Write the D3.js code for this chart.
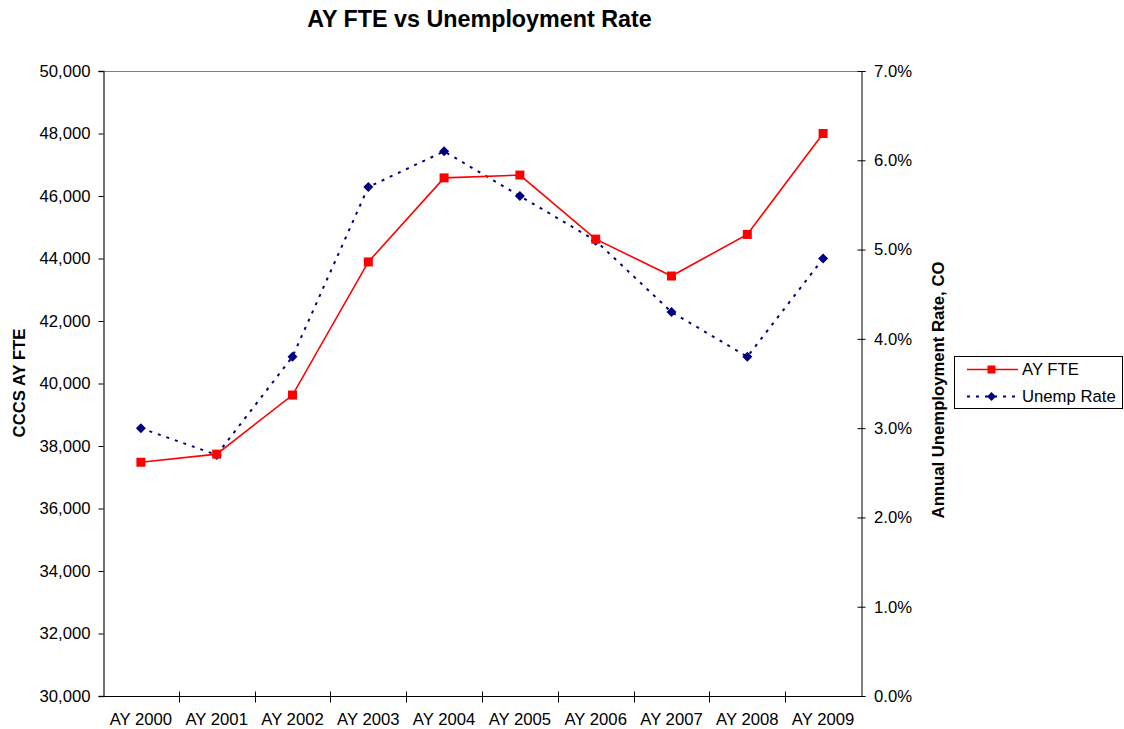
<!DOCTYPE html>
<html>
<head>
<meta charset="utf-8">
<script src="https://cdn.jsdelivr.net/npm/d3@7"></script>
<style>
  body { margin: 0; background: #fff; }
  svg { display: block; font-family: "Liberation Sans", Arial, sans-serif; }
</style>
</head>
<body>
<svg id="chart" width="1124" height="729"></svg>
<script>
// Academic years on the category axis
const years = ["AY 2000", "AY 2001", "AY 2002", "AY 2003", "AY 2004",
               "AY 2005", "AY 2006", "AY 2007", "AY 2008", "AY 2009"];
// CCCS annual FTE enrollment
const fte = [37480, 37740, 39630, 43890, 46580, 46670, 44620, 43440, 44770, 48000];
// Colorado annual unemployment rate (percent)
const unempRate = [3.0, 2.7, 3.8, 5.7, 6.1, 5.6, 5.1, 4.3, 3.8, 4.9];
// Axis ticks
const fteTicks = [30000, 32000, 34000, 36000, 38000, 40000, 42000, 44000, 46000, 48000, 50000];
const rateTicks = [0, 1, 2, 3, 4, 5, 6, 7];

const FONT = "Liberation Sans, Arial, sans-serif";
const FS = 16.7;

const svg = d3.select("#chart");
const plot = { left: 103, right: 861, top: 71, bottom: 696 };

const x = d3.scaleBand().domain(years).range([plot.left, plot.right]);
const yL = d3.scaleLinear().domain([30000, 50000]).range([plot.bottom, plot.top]);
const yR = d3.scaleLinear().domain([0, 7]).range([plot.bottom, plot.top]);
const cx = d => x(d) + x.bandwidth() / 2;

// Square-diamond marker path, r = half diagonal
const diamondPath = r => `M0,${-r}L${r},0L0,${r}L${-r},0Z`;

// Plot area top border
svg.append("line")
  .attr("x1", plot.left).attr("x2", plot.right)
  .attr("y1", plot.top + 0.5).attr("y2", plot.top + 0.5)
  .attr("stroke", "#808080").attr("stroke-width", 1);

// Left axis
const leftAxis = svg.append("g")
  .attr("transform", `translate(${plot.left + 0.5},0)`)
  .call(d3.axisLeft(yL).tickValues(fteTicks).tickSize(5).tickPadding(8)
    .tickFormat(d3.format(",")));
leftAxis.select(".domain").attr("stroke", "#404040").attr("stroke-width", 1.5);
leftAxis.selectAll(".tick line").attr("stroke", "#000");
leftAxis.selectAll("text").attr("font-size", FS).attr("fill", "#000")
  .attr("font-family", FONT);

// Right axis
const rightAxis = svg.append("g")
  .attr("transform", `translate(${plot.right + 0.5},0)`)
  .call(d3.axisRight(yR).tickValues(rateTicks).tickSize(4).tickPadding(8.5)
    .tickFormat(d => d3.format(".1f")(d) + "%"));
rightAxis.select(".domain").attr("stroke", "#000");
rightAxis.selectAll(".tick line").attr("x1", -4).attr("stroke", "#000");
rightAxis.selectAll("text").attr("font-size", FS).attr("fill", "#000")
  .attr("font-family", FONT);

// Bottom axis with ticks between categories
const bottom = svg.append("g").attr("transform", `translate(0,${plot.bottom + 0.5})`);
bottom.append("line").attr("x1", plot.left).attr("x2", plot.right + 1)
  .attr("stroke", "#000");
const bounds = years.slice(1).map(d => x(d));
bottom.selectAll("line.tk").data(bounds).enter().append("line")
  .attr("class", "tk")
  .attr("x1", d => Math.round(d) + 0.5).attr("x2", d => Math.round(d) + 0.5)
  .attr("y1", -5).attr("y2", 6).attr("stroke", "#000");
bottom.selectAll("text").data(years).enter().append("text")
  .attr("x", d => cx(d)).attr("y", 28.5)
  .attr("text-anchor", "middle").attr("font-size", FS).attr("fill", "#000")
  .text(d => d);

// Unemployment rate series: dashed navy line with diamonds
const lineR = d3.line().x((d, i) => cx(years[i])).y(d => yR(d));
svg.append("path").datum(unempRate)
  .attr("d", lineR).attr("fill", "none")
  .attr("stroke", "#000080").attr("stroke-width", 2)
  .attr("stroke-dasharray", "3,6");
svg.selectAll("path.dia").data(unempRate).enter().append("path")
  .attr("class", "dia")
  .attr("transform", (d, i) => `translate(${cx(years[i])},${yR(d)})`)
  .attr("d", diamondPath(5)).attr("fill", "#000080");

// FTE series: solid red line with squares
const lineL = d3.line().x((d, i) => cx(years[i])).y(d => yL(d));
svg.append("path").datum(fte)
  .attr("d", lineL).attr("fill", "none")
  .attr("stroke", "#ff0000").attr("stroke-width", 1.6);
svg.selectAll("rect.sq").data(fte).enter().append("rect")
  .attr("class", "sq")
  .attr("x", (d, i) => cx(years[i]) - 4.5).attr("y", d => yL(d) - 4.5)
  .attr("width", 9).attr("height", 9).attr("fill", "#ff0000");

// Title and axis titles
svg.append("text").attr("x", 479.5).attr("y", 27)
  .attr("text-anchor", "middle").attr("font-size", 23.3).attr("font-weight", "bold")
  .text("AY FTE vs Unemployment Rate");
svg.append("text")
  .attr("transform", `translate(25,383) rotate(-90)`)
  .attr("text-anchor", "middle").attr("font-size", FS).attr("font-weight", "bold")
  .text("CCCS AY FTE");
svg.append("text")
  .attr("transform", `translate(944,390) rotate(-90)`)
  .attr("text-anchor", "middle").attr("font-size", FS).attr("font-weight", "bold")
  .text("Annual Unemployment Rate, CO");

// Legend
const lg = svg.append("g");
lg.append("rect").attr("x", 954.5).attr("y", 356.5).attr("width", 168).attr("height", 52)
  .attr("fill", "#fff").attr("stroke", "#000");
lg.append("line").attr("x1", 967).attr("x2", 1018).attr("y1", 369.5).attr("y2", 369.5)
  .attr("stroke", "#ff0000").attr("stroke-width", 1.6);
lg.append("rect").attr("x", 987.5).attr("y", 365.5).attr("width", 8).attr("height", 8)
  .attr("fill", "#ff0000");
lg.append("text").attr("x", 1022).attr("y", 374.5).attr("font-size", FS).text("AY FTE");
lg.append("line").attr("x1", 967).attr("x2", 1018).attr("y1", 396.5).attr("y2", 396.5)
  .attr("stroke", "#000080").attr("stroke-width", 2).attr("stroke-dasharray", "3,6");
lg.append("path").attr("transform", "translate(991.5,396.5)").attr("d", diamondPath(4.5))
  .attr("fill", "#000080");
lg.append("text").attr("x", 1022).attr("y", 401.5).attr("font-size", FS).text("Unemp Rate");
</script>
</body>
</html>
